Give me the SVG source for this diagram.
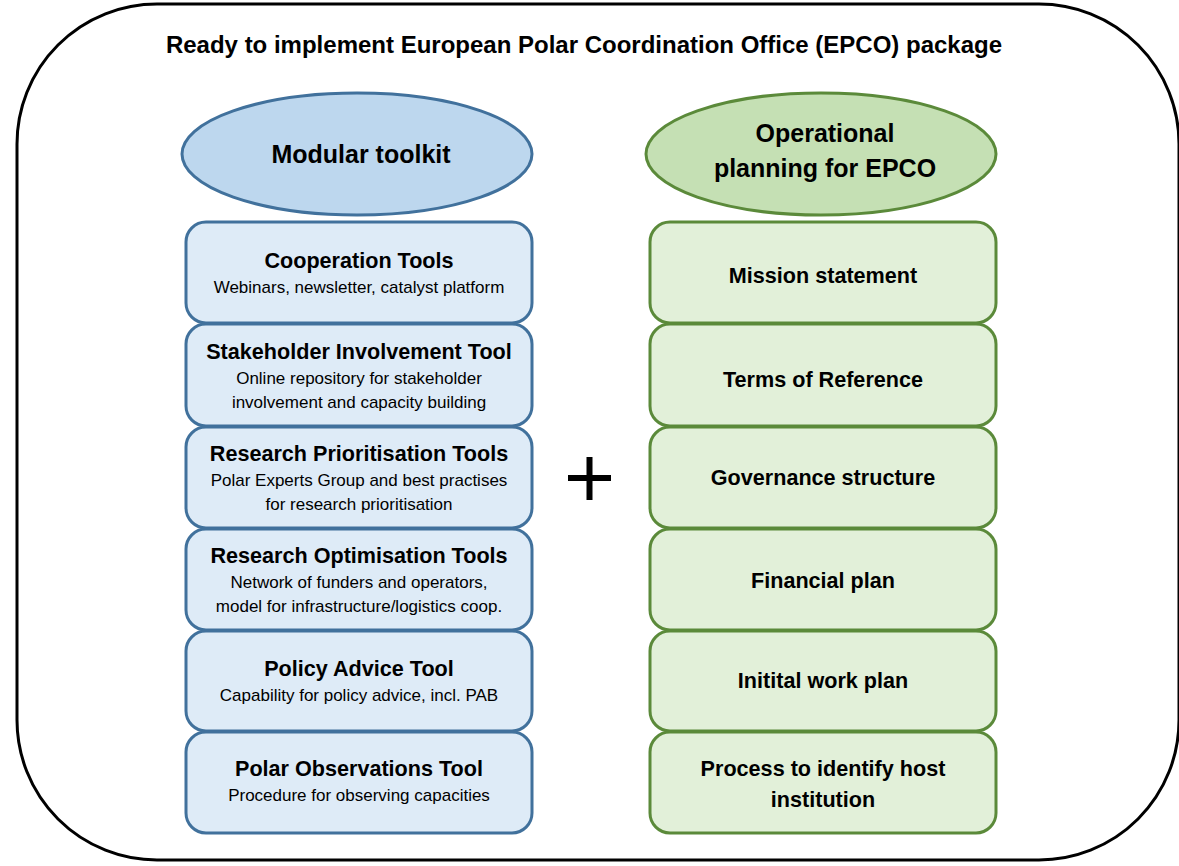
<svg xmlns="http://www.w3.org/2000/svg" width="1179" height="866" viewBox="0 0 1179 866">
<style>
text{font-family:"Liberation Sans",Arial,sans-serif;fill:#000;text-anchor:middle}
.t{font-weight:bold;font-size:24px}
.h{font-weight:bold;font-size:25px}
.b{font-weight:bold;font-size:21.6px}
.s{font-size:17px}
.bb{fill:#deebf7;stroke:#41719c;stroke-width:3}
.be{fill:#bdd7ee;stroke:#41719c;stroke-width:3}
.gb{fill:#e2f0d9;stroke:#5b8a3a;stroke-width:3}
.ge{fill:#c5e0b4;stroke:#5b8a3a;stroke-width:3}
</style>
<rect width="1179" height="866" fill="#fff"/>
<rect id="frame" x="17" y="4" width="1162" height="856" rx="140" ry="140" fill="none" stroke="#000" stroke-width="3"/>
<text id="title" class="t" x="584" y="53">Ready to implement European Polar Coordination Office (EPCO) package</text>
<g id="toolkit"><ellipse class="be" cx="357" cy="154" rx="175" ry="61"/><text class="h" x="361" y="163">Modular toolkit</text></g>
<g id="operational"><ellipse class="ge" cx="821" cy="154" rx="175" ry="61"/><text class="h" x="825" y="142">Operational</text><text class="h" x="825" y="177">planning for EPCO</text></g>
<g id="coop"><rect class="bb" x="186" y="222" width="346" height="101" rx="20"/><text class="b" x="359" y="268">Cooperation Tools</text><text class="s" x="359" y="293">Webinars, newsletter, catalyst platform</text></g>
<g id="stake"><rect class="bb" x="186" y="324" width="346" height="102" rx="20"/><text class="b" x="359" y="359">Stakeholder Involvement Tool</text><text class="s" x="359" y="384">Online repository for stakeholder</text><text class="s" x="359" y="408">involvement and capacity building</text></g>
<g id="prio"><rect class="bb" x="186" y="427" width="346" height="101" rx="20"/><text class="b" x="359" y="461">Research Prioritisation Tools</text><text class="s" x="359" y="486">Polar Experts Group and best practises</text><text class="s" x="359" y="510">for research prioritisation</text></g>
<g id="optim"><rect class="bb" x="186" y="529" width="346" height="101" rx="20"/><text class="b" x="359" y="563">Research Optimisation Tools</text><text class="s" x="359" y="588">Network of funders and operators,</text><text class="s" x="359" y="612">model for infrastructure/logistics coop.</text></g>
<g id="policy"><rect class="bb" x="186" y="631" width="346" height="100" rx="20"/><text class="b" x="359" y="676">Policy Advice Tool</text><text class="s" x="359" y="701">Capability for policy advice, incl. PAB</text></g>
<g id="obs"><rect class="bb" x="186" y="732" width="346" height="101" rx="20"/><text class="b" x="359" y="776">Polar Observations Tool</text><text class="s" x="359" y="801">Procedure for observing capacities</text></g>
<g id="mission"><rect class="gb" x="650" y="222" width="346" height="101" rx="20"/><text class="b" x="823" y="283">Mission statement</text></g>
<g id="tor"><rect class="gb" x="650" y="324" width="346" height="102" rx="20"/><text class="b" x="823" y="387">Terms of Reference</text></g>
<g id="gov"><rect class="gb" x="650" y="427" width="346" height="101" rx="20"/><text class="b" x="823" y="485">Governance structure</text></g>
<g id="fin"><rect class="gb" x="650" y="529" width="346" height="101" rx="20"/><text class="b" x="823" y="588">Financial plan</text></g>
<g id="work"><rect class="gb" x="650" y="631" width="346" height="100" rx="20"/><text class="b" x="823" y="688">Initital work plan</text></g>
<g id="host"><rect class="gb" x="650" y="732" width="346" height="101" rx="20"/><text class="b" x="823" y="776">Process to identify host</text><text class="b" x="823" y="807">institution</text></g>
<g id="plus"><path d="M568 478H611M589.5 457V500" stroke="#000" stroke-width="6" fill="none"/></g>
<g id="connectors"></g>
</svg>
